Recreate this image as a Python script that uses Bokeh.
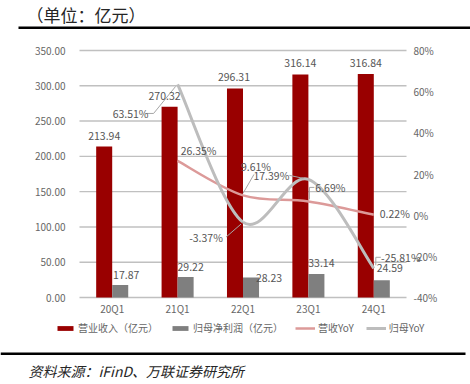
from bokeh.plotting import figure
from bokeh.models import (Range1d, LabelSet, Label, ColumnDataSource, Legend, LegendItem,
                          BoxAnnotation)
from bokeh.core.properties import value
from bokeh.embed import file_html
from bokeh.resources import INLINE

# ---------------- data ----------------
quarters = ["20Q1", "21Q1", "22Q1", "23Q1", "24Q1"]
revenue = [213.94, 270.32, 296.31, 316.14, 316.84]          # 营业收入（亿元）
net_profit = [17.87, 29.22, 28.23, 33.14, 24.59]             # 归母净利润（亿元）
rev_yoy = [None, 26.35, 9.61, 6.69, 0.22]                    # 营收YoY (%)
np_yoy = [None, 63.51, -3.37, 17.39, -25.81]                 # 归母YoY (%)
left_ticks = [0, 50, 100, 150, 200, 250, 300, 350]
right_ticks = [-40, -20, 0, 20, 40, 60, 80]
title_text = "（单位：亿元）"
source_text = "资料来源：iFinD、万联证券研究所"
legend_labels = ["营业收入（亿元）", "归母净利润（亿元）", "营收YoY", "归母YoY"]

# ---------------- layout / style ----------------
W, H = 470, 384
PL, PR, PT, PB = 79, 406, 50, 297          # plot area (page px)
FONT = "Noto Sans CJK SC"
RED = "#990000"
GRAY = "#7f7f7f"
PINK = "#dc9a99"
LGRAY = "#bdbdbd"
GRID = "#c0c0c0"
TXT = "#555555"
TICK = "#666666"
BAR_W = 0.245

# label offsets (px), y positive = up
rev_lab_dx = [0, -5, -1, 0, 0]
rev_lab_dy = [11, 11, 11, 11, 11]
np_lab_dx = [6, 5, 18, 5, 8]
np_lab_dy = [10, 10, 0, 11, 12]
ry_lab_dx = [0, 21, 13, 22, 21]
ry_lab_dy = [0, 10, 29, 14, 1]
py_lab_dx = [0, -47, -37, -37, 27]
py_lab_dy = [0, -29, -15, 4, 11]

n = len(quarters)
idx = list(range(n))

# scales: the frame covers the whole canvas; ranges chosen so that the
# category band [-0.5, n-0.5] and the value ranges fill the plot area
px_per_cat = (PR - PL) / n
px_per_val = (PB - PT) / (left_ticks[-1] - left_ticks[0])
px_per_pct = (PB - PT) / (right_ticks[-1] - right_ticks[0])
x0 = -0.5 - PL / px_per_cat
x1 = n - 0.5 + (W - PR) / px_per_cat
y0 = left_ticks[0] - (H - PB) / px_per_val
y1 = left_ticks[-1] + PT / px_per_val
q0 = right_ticks[0] - (H - PB) / px_per_pct
q1 = right_ticks[-1] + PT / px_per_pct

p = figure(width=W, height=H, output_backend="svg", toolbar_location=None,
           x_range=Range1d(x0, x1), y_range=Range1d(y0, y1),
           x_axis_type=None, y_axis_type=None, min_border=0,
           background_fill_color="white", border_fill_color="white",
           outline_line_color=None)
p.extra_y_ranges = {"pct": Range1d(q0, q1)}

# grid lines (left value axis ticks)
p.segment(x0=[-0.5] * len(left_ticks), x1=[n - 0.5] * len(left_ticks),
          y0=left_ticks, y1=left_ticks, line_color=GRID, line_width=1.4)

# bars
x_rev = [i - BAR_W / 2 for i in idx]
x_np = [i + BAR_W / 2 for i in idx]
r_rev = p.vbar(x=x_rev, top=revenue, width=BAR_W, bottom=0, fill_color=RED, line_color=None)
r_np = p.vbar(x=x_np, top=net_profit, width=BAR_W, bottom=0, fill_color=GRAY, line_color=None)

# smooth lines (cubic bezier through the points, Excel-like smoothing)
def bezier_src(xs, ys):
    pts = [(x, y) for x, y in zip(xs, ys) if y is not None]
    d = dict(x0=[], y0=[], x1=[], y1=[], cx0=[], cy0=[], cx1=[], cy1=[])
    m = len(pts)
    for i in range(m - 1):
        p0 = pts[i - 1] if i > 0 else pts[i]
        p1 = pts[i]
        p2 = pts[i + 1]
        p3 = pts[i + 2] if i + 2 < m else pts[i + 1]
        d["x0"].append(p1[0]); d["y0"].append(p1[1])
        d["x1"].append(p2[0]); d["y1"].append(p2[1])
        d["cx0"].append(p1[0] + (p2[0] - p0[0]) / 6); d["cy0"].append(p1[1] + (p2[1] - p0[1]) / 6)
        d["cx1"].append(p2[0] - (p3[0] - p1[0]) / 6); d["cy1"].append(p2[1] - (p3[1] - p1[1]) / 6)
    return ColumnDataSource(d)

r_ry = p.bezier(x0="x0", y0="y0", x1="x1", y1="y1", cx0="cx0", cy0="cy0", cx1="cx1", cy1="cy1",
                source=bezier_src(idx, rev_yoy), line_color=PINK, line_width=2.5,
                y_range_name="pct")
r_py = p.bezier(x0="x0", y0="y0", x1="x1", y1="y1", cx0="cx0", cy0="cy0", cx1="cx1", cy1="cy1",
                source=bezier_src(idx, np_yoy), line_color=LGRAY, line_width=3,
                y_range_name="pct")

# leader lines (offsets in px from the data point, converted to data units)
leaders = [
    (1, np_yoy[1], [(-31, -29), (-24, -29), (-2, -2)]),
    (2, rev_yoy[2], [(0, 2), (11, 21)]),
    (3, np_yoy[3], [(-19, 4), (-5, 1)]),
    (2, np_yoy[2], [(-17, -15), (-2, -2)]),
    (3, rev_yoy[3], [(1, 2), (1, 14), (6, 14)]),
    (4, np_yoy[4], [(2, 3), (2, 11), (7, 11)]),
]
lx, ly = [], []
for xi, yv, offs in leaders:
    lx.append([xi + dx / px_per_cat for dx, dy in offs])
    ly.append([yv + dy / px_per_pct for dx, dy in offs])
p.multi_line(xs=lx, ys=ly, line_color="#a6a6a6", line_width=1, y_range_name="pct")

# axis tick labels and data labels
def labels(src, rng, align, size, color):
    p.add_layout(LabelSet(x="x", y="y", text="t", source=src, x_offset="dx", y_offset="dy",
                          y_range_name=rng, text_align=align, text_baseline="middle",
                          text_font=value(FONT), text_font_size=value(size),
                          text_color=value(color)))

labels(ColumnDataSource(dict(x=[-0.5] * len(left_ticks), y=left_ticks,
                             t=[f"{v:.2f}" for v in left_ticks],
                             dx=[-14] * len(left_ticks), dy=[0] * len(left_ticks))),
       "default", "right", "10px", TICK)
labels(ColumnDataSource(dict(x=[n - 0.5] * len(right_ticks), y=right_ticks,
                             t=[f"{v}%" for v in right_ticks],
                             dx=[7] * len(right_ticks), dy=[0] * len(right_ticks))),
       "pct", "left", "10px", TICK)
labels(ColumnDataSource(dict(x=idx, y=[0] * n, t=quarters,
                             dx=[0] * n, dy=[-11] * n)),
       "default", "center", "10px", TICK)

sel = [i for i in idx if rev_yoy[i] is not None]
labels(ColumnDataSource(dict(x=x_rev, y=revenue, t=[f"{v:.2f}" for v in revenue],
                             dx=rev_lab_dx, dy=rev_lab_dy)), "default", "center", "10.5px", TXT)
labels(ColumnDataSource(dict(x=x_np, y=net_profit, t=[f"{v:.2f}" for v in net_profit],
                             dx=np_lab_dx, dy=np_lab_dy)), "default", "center", "10.5px", TXT)
labels(ColumnDataSource(dict(x=sel, y=[rev_yoy[i] for i in sel],
                             t=[f"{rev_yoy[i]:.2f}%" for i in sel],
                             dx=[ry_lab_dx[i] for i in sel], dy=[ry_lab_dy[i] for i in sel])),
       "pct", "center", "10.5px", TXT)
labels(ColumnDataSource(dict(x=sel, y=[np_yoy[i] for i in sel],
                             t=[f"{np_yoy[i]:.2f}%" for i in sel],
                             dx=[py_lab_dx[i] for i in sel], dy=[py_lab_dy[i] for i in sel])),
       "pct", "center", "10.5px", TXT)

# legend
legend = Legend(items=[LegendItem(label=lab, renderers=[r])
                       for lab, r in zip(legend_labels, [r_rev, r_np, r_ry, r_py])],
                orientation="horizontal", location=(55, H - 335),
                glyph_width=20, glyph_height=6, label_standoff=3, spacing=12,
                padding=0, margin=0, border_line_color=None, background_fill_alpha=0,
                label_text_font=FONT, label_text_font_size="10px", label_text_color=TICK)
p.add_layout(legend)

# title, rules, source
p.add_layout(Label(x=26, y=H - 14, x_units="screen", y_units="screen", text=title_text,
                   text_font=FONT, text_font_size="17px", text_color="#262626",
                   text_baseline="middle", text_align="left"))
p.add_layout(BoxAnnotation(left=18, right=W, bottom=H - 28.5, top=H - 26,
                           left_units="screen", right_units="screen",
                           bottom_units="screen", top_units="screen",
                           fill_color="black", fill_alpha=1, line_color=None))
p.add_layout(BoxAnnotation(left=0, right=465, bottom=H - 354.5, top=H - 352,
                           left_units="screen", right_units="screen",
                           bottom_units="screen", top_units="screen",
                           fill_color="black", fill_alpha=1, line_color=None))
p.add_layout(Label(x=28, y=H - 370, x_units="screen", y_units="screen", text=source_text,
                   text_font=FONT, text_font_style="italic", text_font_size="14px",
                   text_color="#262626", text_baseline="middle", text_align="left"))

open("out.html", "w").write(file_html(p, INLINE))
